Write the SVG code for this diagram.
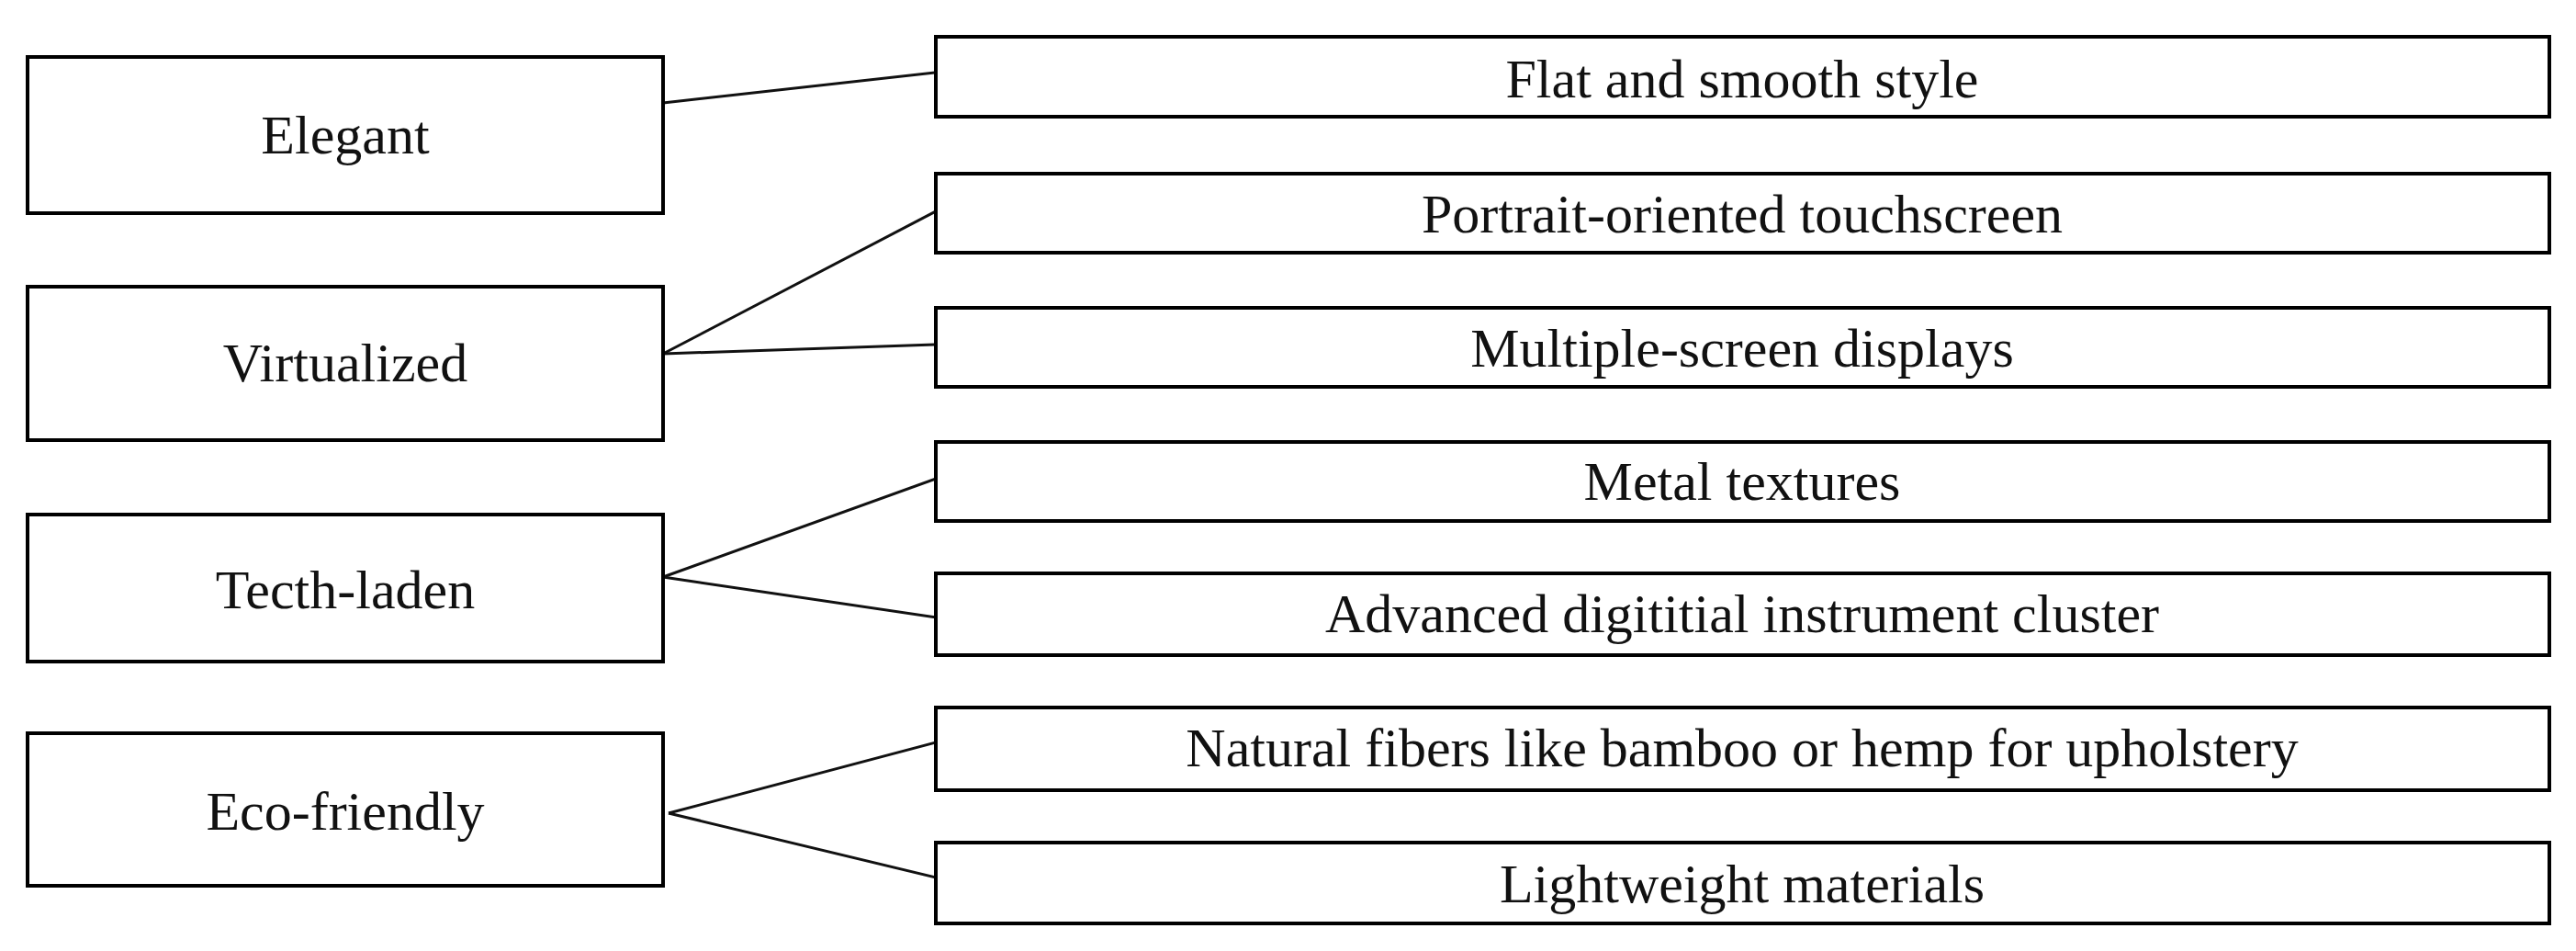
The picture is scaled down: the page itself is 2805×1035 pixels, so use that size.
<svg xmlns="http://www.w3.org/2000/svg" width="2805" height="1035" viewBox="0 0 2805 1035">
<style>
rect{fill:#fff;stroke:#000;stroke-width:4}
text{font-family:"Liberation Serif","Times New Roman",serif;font-size:60px;fill:#111;text-anchor:middle}
#connectors line{stroke:#111;stroke-width:3}
</style>
<rect x="0" y="0" width="2805" height="1035" style="stroke:none"/>
<g id="connectors">
<line x1="722" y1="112" x2="1019" y2="79"/>
<line x1="722" y1="385" x2="1019" y2="230"/>
<line x1="722" y1="385" x2="1019" y2="375"/>
<line x1="722" y1="628" x2="1019" y2="521"/>
<line x1="722" y1="628" x2="1019" y2="672"/>
<line x1="728" y1="885" x2="1019" y2="808"/>
<line x1="728" y1="885" x2="1019" y2="955"/>
</g>
<g id="n-elegant"><rect x="30" y="62" width="692" height="170"/><text x="376" y="167">Elegant</text></g>
<g id="n-virtualized"><rect x="30" y="312" width="692" height="167"/><text x="376" y="415">Virtualized</text></g>
<g id="n-tecth"><rect x="30" y="560" width="692" height="160"/><text x="376" y="662">Tecth-laden</text></g>
<g id="n-eco"><rect x="30" y="798" width="692" height="166"/><text x="376" y="903">Eco-friendly</text></g>
<g id="r1"><rect x="1019" y="40" width="1757" height="87"/><text x="1897" y="106">Flat and smooth style</text></g>
<g id="r2"><rect x="1019" y="189" width="1757" height="86"/><text x="1897" y="253">Portrait-oriented touchscreen</text></g>
<g id="r3"><rect x="1019" y="335" width="1757" height="86"/><text x="1897" y="399">Multiple-screen displays</text></g>
<g id="r4"><rect x="1019" y="481" width="1757" height="86"/><text x="1897" y="544">Metal textures</text></g>
<g id="r5"><rect x="1019" y="624" width="1757" height="89"/><text x="1897" y="688">Advanced digititial instrument cluster</text></g>
<g id="r6"><rect x="1019" y="770" width="1757" height="90"/><text x="1897" y="834">Natural fibers like bamboo or hemp for upholstery</text></g>
<g id="r7"><rect x="1019" y="917" width="1757" height="88"/><text x="1897" y="982">Lightweight materials</text></g>
</svg>
